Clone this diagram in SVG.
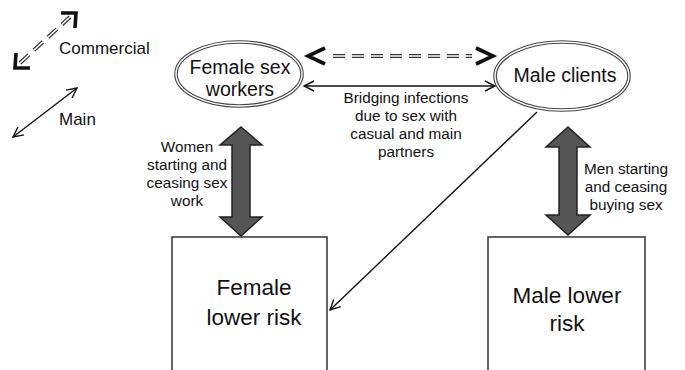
<svg xmlns="http://www.w3.org/2000/svg" width="685" height="370" viewBox="0 0 685 370">
<style>
text{font-family:"Liberation Sans",Arial,sans-serif;fill:#111;text-anchor:middle}
.big{font-size:19.5px}
.box{font-size:22.5px}
.lbl{font-size:15.3px}
.leg{font-size:17px;text-anchor:start}
.ell-o{fill:#fff;stroke:#444;stroke-width:3.6}
.ell-i{fill:none;stroke:#fff;stroke-width:1.4}
.rect{fill:#fff;stroke:#333;stroke-width:1.5}
.thin{stroke:#111;stroke-width:1.4;fill:none}
.dash-o{stroke:#333;stroke-width:4;stroke-dasharray:12 7;fill:none}
.dash-i{stroke:#fff;stroke-width:1.6;stroke-dasharray:12 7;fill:none}
.chev{stroke:#111;stroke-width:3.6;fill:none;stroke-linecap:butt;stroke-linejoin:miter}
.block{fill:#555;stroke:#222;stroke-width:1.5;stroke-linejoin:miter}
</style>
<defs>
<marker id="open" viewBox="0 0 12 12" refX="11" refY="6" markerWidth="12" markerHeight="12" markerUnits="userSpaceOnUse" orient="auto-start-reverse">
<path d="M1,1 L11,6 L1,11" fill="none" stroke="#111" stroke-width="1.4"/>
</marker>
</defs>

<g id="legend">
<line class="dash-o" x1="20" y1="63" x2="70" y2="17"/>
<line class="dash-i" x1="20" y1="63" x2="70" y2="17"/>
<path class="chev" d="M61,13 L76,13 L75,28"/>
<path class="chev" d="M16,53 L15,68 L30,68"/>
<text class="leg" x="59" y="54">Commercial</text>
<line class="thin" x1="13" y1="137" x2="77" y2="88" marker-start="url(#open)" marker-end="url(#open)"/>
<text class="leg" x="59" y="125">Main</text>
</g>

<g id="fsw">
<ellipse class="ell-o" cx="239" cy="74" rx="63" ry="32"/>
<ellipse class="ell-i" cx="239" cy="74" rx="63" ry="32"/>
<text class="big" x="240" y="74">Female sex</text>
<text class="big" x="240" y="96">workers</text>
</g>

<g id="clients">
<ellipse class="ell-o" cx="562" cy="76" rx="67" ry="34"/>
<ellipse class="ell-i" cx="562" cy="76" rx="67" ry="34"/>
<text class="big" x="565" y="82">Male clients</text>
</g>

<g id="flr">
<path class="rect" d="M172,372 L172,237 L327,237 L327,372"/>
<text class="box" x="254" y="295">Female</text>
<text class="box" x="254" y="325">lower risk</text>
</g>

<g id="mlr">
<path class="rect" d="M488,372 L488,237 L645,237 L645,372"/>
<text class="box" x="567" y="303">Male lower</text>
<text class="box" x="567" y="331">risk</text>
</g>

<g id="connectors">
<line class="dash-o" x1="333" y1="56" x2="472" y2="56"/>
<line class="dash-i" x1="333" y1="56" x2="472" y2="56"/>
<path class="chev" d="M325,48 L308,56 L325,64"/>
<path class="chev" d="M476,48 L493,56 L476,64"/>
<line class="thin" x1="304" y1="86" x2="495" y2="86" marker-start="url(#open)" marker-end="url(#open)"/>
<line class="thin" x1="537" y1="112" x2="330" y2="310" marker-end="url(#open)"/>
<polygon class="block" points="241,127 262,145 250,145 250,217 262,217 241,236 220,217 232,217 232,145 220,145"/>
<polygon class="block" points="568,127 590,147 577,147 577,215 590,215 568,235 546,215 559,215 559,147 546,147"/>
<text class="lbl" x="406" y="103">Bridging infections</text>
<text class="lbl" x="406" y="121">due to sex with</text>
<text class="lbl" x="406" y="139">casual and main</text>
<text class="lbl" x="406" y="157">partners</text>
<text class="lbl" x="187" y="152">Women</text>
<text class="lbl" x="187" y="170">starting and</text>
<text class="lbl" x="187" y="188">ceasing sex</text>
<text class="lbl" x="187" y="206">work</text>
<text class="lbl" x="626" y="174">Men starting</text>
<text class="lbl" x="626" y="192">and ceasing</text>
<text class="lbl" x="626" y="210">buying sex</text>
</g>
</svg>
